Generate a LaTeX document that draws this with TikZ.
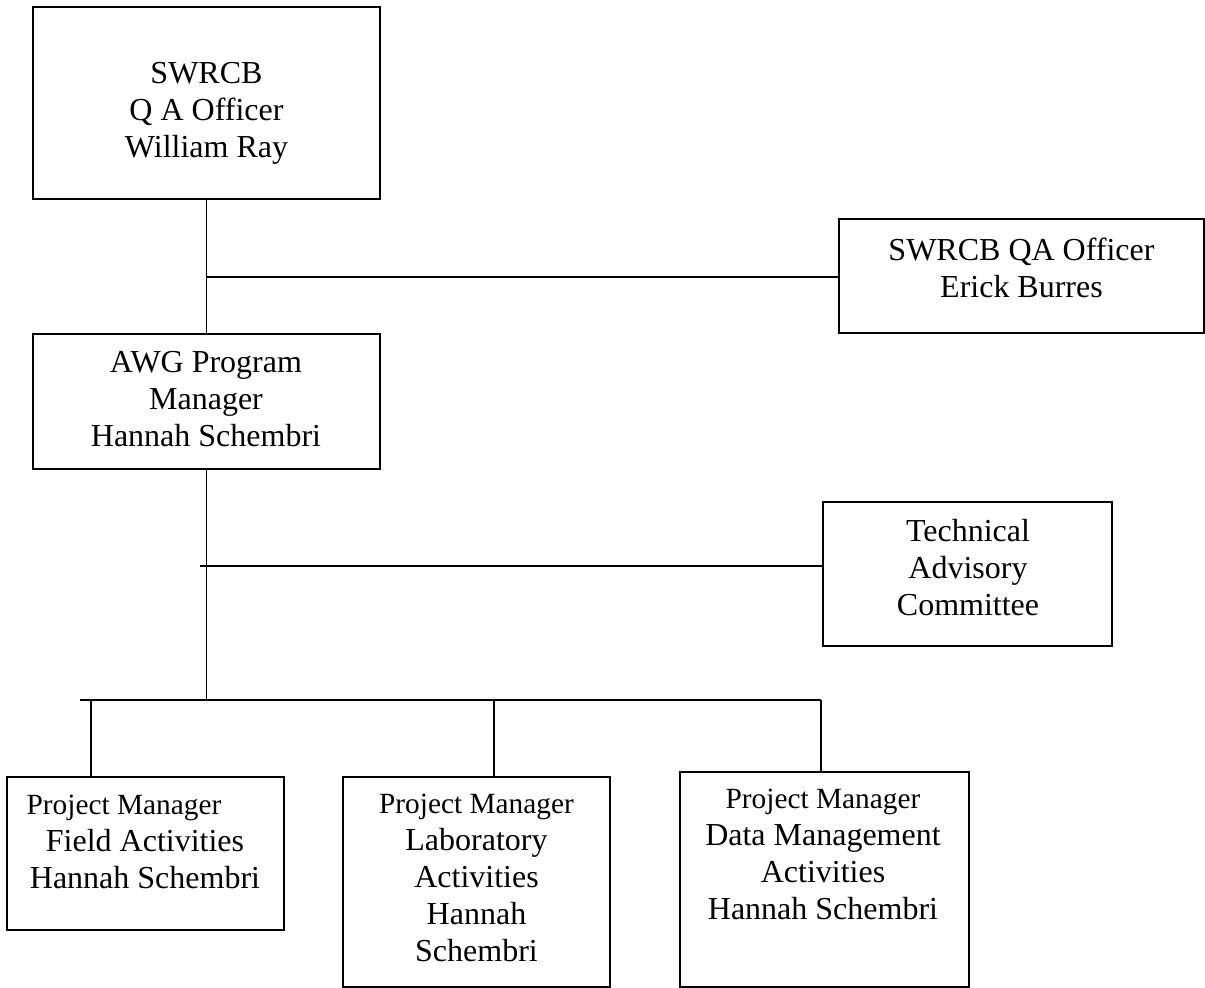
\documentclass[tikz,border=0pt]{standalone}
\usepackage{fontspec}
\setmainfont{Liberation Serif}
\newcommand{\pmfont}{\fontsize{14.67pt}{18.5pt}\selectfont}

\begin{document}
\begin{tikzpicture}
[every node/.style={inner sep=0pt},
 box/.style={rectangle, draw=black, line width=0.7pt},
 txt/.style={align=center, font=\fontsize{16pt}{18.5pt}\selectfont},
 link/.style={line width=0.6pt, color=black}]
\useasboundingbox (0pt, 0pt) rectangle (602.5pt, -494.0pt);
% boxes
\node (1) [box, minimum width=173.5pt, minimum height=96.0pt] at (103.25pt, -51.5pt) {};
\node (2) [box, minimum width=182.5pt, minimum height=57.0pt] at (510.75pt, -138.0pt) {};
\node (3) [box, minimum width=173.5pt, minimum height=67.5pt] at (103.25pt, -200.75pt) {};
\node (4) [box, minimum width=144.5pt, minimum height=72.0pt] at (483.75pt, -287.0pt) {};
\node (5) [box, minimum width=138.5pt, minimum height=76.5pt] at (72.75pt, -426.75pt) {};
\node (6) [box, minimum width=133.5pt, minimum height=105.0pt] at (238.25pt, -441.0pt) {};
\node (7) [box, minimum width=144.5pt, minimum height=107.5pt] at (412.25pt, -439.75pt) {};
% texts
\node (t1) [txt] at (103.25pt, -56.75pt) {SWRCB\\Q A Officer\\William Ray};
\node (t2) [txt] at (510.75pt, -134.0pt) {SWRCB QA Officer\\Erick Burres};
\node (t3) [txt] at (103.0pt, -199.75pt) {AWG Program\\Manager\\Hannah Schembri};
\node (t4) [txt] at (484.0pt, -283.75pt) {Technical\\Advisory\\Committee};
\node (t5) [txt] at (72.5pt, -420.75pt) {\hspace*{-21pt}{\pmfont Project Manager}\\Field Activities\\Hannah Schembri};
\node (t6) [txt] at (238.25pt, -438.75pt) {{\pmfont Project Manager}\\Laboratory\\Activities\\Hannah\\Schembri};
\node (t7) [txt] at (411.5pt, -427.0pt) {{\pmfont Project Manager}\\Data Management\\Activities\\Hannah Schembri};
% junctions
\coordinate (j1) at (103.5pt, -138.5pt);
\coordinate (j2) at (100.0pt, -283.0pt);
\coordinate (bl) at (40.0pt, -350.0pt);
\coordinate (d5) at (45.5pt, -350.0pt);
\coordinate (d6) at (247.0pt, -350.0pt);
\coordinate (d7) at (410.5pt, -350.0pt);
\draw [link] (1.south) to  (3.north);
\draw [link] (j1) to  (j1 -| 2.west);
\draw [link] (j2) to  (j2 -| 4.west);
\draw [link] (3.south) to  (3.south |- bl);
\draw [link] (bl) to  (d7);
\draw [link] (d5) to  (d5 |- 5.north);
\draw [link] (d6) to  (d6 |- 6.north);
\draw [link] (d7) to  (d7 |- 7.north);
\end{tikzpicture}
\end{document}
